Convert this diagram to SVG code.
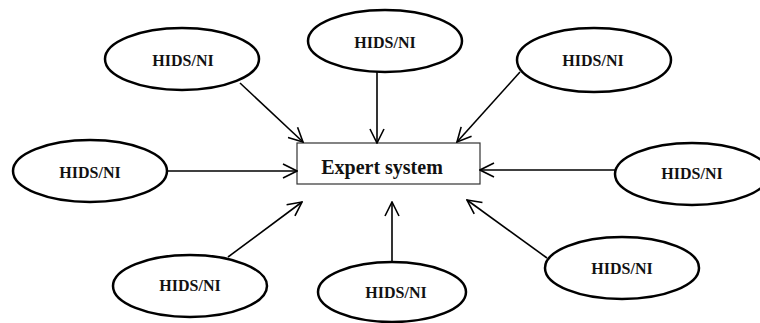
<svg xmlns="http://www.w3.org/2000/svg" width="760" height="323" viewBox="0 0 760 323">
<style>
.node ellipse{fill:#fff;stroke:#000;stroke-width:2.5}
.lbl{font-family:"Liberation Serif","Times New Roman",serif;font-weight:bold;font-size:16px;fill:#111;text-anchor:middle;dominant-baseline:central}
.box{fill:#fff;stroke:#333;stroke-width:1.2}
.big{font-family:"Liberation Serif","Times New Roman",serif;font-weight:bold;font-size:20px;fill:#111;text-anchor:middle;dominant-baseline:central}
#connectors line{stroke:#000;stroke-width:1.6;marker-end:url(#arr)}
</style>
<defs>
<marker id="arr" viewBox="0 0 16 16" refX="15" refY="8" markerWidth="16" markerHeight="16" markerUnits="userSpaceOnUse" orient="auto">
<path d="M1,1 L15,8 L1,15" fill="none" stroke="#000" stroke-width="1.6"/>
</marker>
</defs>
<rect width="760" height="323" fill="#fff"/>
<g id="expert">
<rect class="box" x="297" y="143" width="183" height="41"/>
<text class="big" x="382" y="167">Expert system</text>
</g>
<g id="n1" class="node"><ellipse cx="182" cy="59" rx="77" ry="31"/><text class="lbl" x="183" y="60">HIDS/NI</text></g>
<g id="n2" class="node"><ellipse cx="385" cy="41" rx="77" ry="31"/><text class="lbl" x="385" y="42">HIDS/NI</text></g>
<g id="n3" class="node"><ellipse cx="594" cy="60" rx="77" ry="32"/><text class="lbl" x="593" y="60">HIDS/NI</text></g>
<g id="n4" class="node"><ellipse cx="90" cy="171" rx="77" ry="31"/><text class="lbl" x="90" y="172">HIDS/NI</text></g>
<g id="n5" class="node"><ellipse cx="692" cy="174" rx="77" ry="31"/><text class="lbl" x="692" y="173">HIDS/NI</text></g>
<g id="n6" class="node"><ellipse cx="190" cy="286" rx="77" ry="31"/><text class="lbl" x="190" y="285">HIDS/NI</text></g>
<g id="n7" class="node"><ellipse cx="392" cy="292" rx="74" ry="30"/><text class="lbl" x="396" y="292">HIDS/NI</text></g>
<g id="n8" class="node"><ellipse cx="622" cy="268" rx="77" ry="31"/><text class="lbl" x="622" y="268">HIDS/NI</text></g>
<g id="connectors">
<line x1="240" y1="83" x2="303" y2="142"/>
<line x1="377" y1="72" x2="377" y2="143"/>
<line x1="520" y1="72" x2="457" y2="142"/>
<line x1="168" y1="171" x2="297" y2="171"/>
<line x1="615" y1="170" x2="480" y2="170"/>
<line x1="228" y1="257" x2="302" y2="202"/>
<line x1="392" y1="262" x2="392" y2="202"/>
<line x1="547" y1="258" x2="467" y2="200"/>
</g>
</svg>
